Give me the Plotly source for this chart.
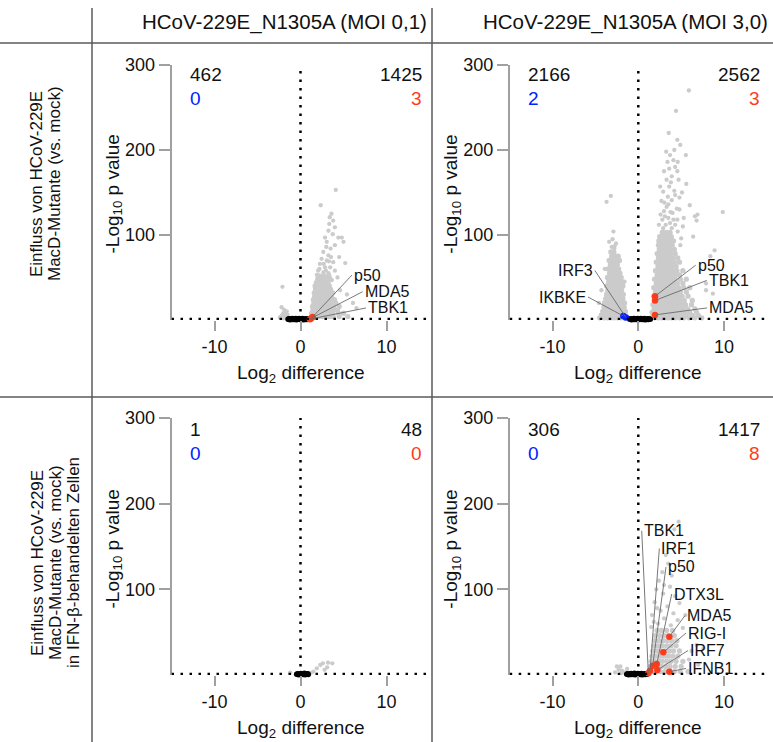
import plotly.graph_objects as go

W, H = 773, 742
FONT = "Liberation Sans, Arial, Helvetica, sans-serif"

# ---------------- data ----------------
col_titles = ["HCoV-229E_N1305A (MOI 0,1)", "HCoV-229E_N1305A (MOI 3,0)"]
row_titles_top = ["Einfluss von HCoV-229E", "MacD-Mutante (vs. mock)"]
row_titles_bottom = ["Einfluss von HCoV-229E", "MacD-Mutante (vs. mock)", "in IFN-β-behandelten Zellen"]
x_tick_vals = [-10, 0, 10]
x_tick_text = ["-10", "0", "10"]
y_tick_vals = [100, 200, 300]
y_tick_text = ["100", "200", "300"]
fc_threshold = 0
p_threshold = 1.3

down_total = [462, 2166, 1, 306]
down_hits = [0, 2, 0, 0]
up_total = [1425, 2562, 48, 1417]
up_hits = [3, 3, 0, 8]

# gray proteins, read per panel: scattered ones and dense rows (y, [x...])
p1_gray_sparse = [(4.1, 153), (2.35, 135), (3.6, 125), (3.4, 121), (3.8, 117), (3.35, 113), (4.0, 109),
                  (3.25, 105), (3.75, 101), (2.85, 97), (4.4, 97), (4.8, 97), (5.0, 92), (3.05, 92),
                  (4.0, 88), (3.5, 84), (2.65, 80), (3.25, 76), (4.5, 74), (2.45, 72), (3.05, 70),
                  (3.8, 68), (5.2, 67), (2.25, 66), (2.85, 62), (3.45, 62), (2.05, 58), (4.0, 58),
                  (2.65, 56), (3.25, 55), (1.9, 53), (2.45, 51), (3.05, 49), (3.65, 47), (4.3, 50),
                  (2.7, 66), (3.3, 69), (2.95, 58), (3.55, 74), (2.2, 60), (3.0, 86),
                  (6.1, 20), (6.5, 14), (5.4, 30), (4.6, 35),
                  (-2.1, 39), (-2.2, 15), (-1.9, 12), (-1.6, 10), (-2.0, 8), (-1.5, 6), (-2.2, 5),
                  (-1.8, 4), (-1.4, 3), (-2.4, 3), (-1.7, 7), (-2.0, 2)]
p1_gray_rows = [(52, [2.2, 2.75, 3.3]),
                (48, [2.0, 2.5, 2.95, 3.45]),
                (44, [1.85, 2.3, 2.75, 3.2]),
                (40, [1.7, 2.1, 2.5, 2.9, 3.35]),
                (36, [1.75, 2.15, 2.6, 3.05, 3.5]),
                (32, [1.6, 2.0, 2.45, 2.85, 3.25, 3.75]),
                (28, [1.65, 2.05, 2.4, 2.8, 3.2, 3.6]),
                (24, [1.5, 1.9, 2.3, 2.7, 3.1, 3.5, 3.95]),
                (20, [1.55, 1.95, 2.35, 2.75, 3.15, 3.55, 4.1]),
                (16, [1.4, 1.8, 2.2, 2.6, 3.0, 3.4, 3.85, 4.5]),
                (12, [1.45, 1.85, 2.25, 2.65, 3.05, 3.45, 3.9, 4.3]),
                (8, [1.3, 1.7, 2.1, 2.5, 2.9, 3.3, 3.75, 4.4, 5.0]),
                (4, [1.35, 1.75, 2.15, 2.55, 2.95, 3.35, 3.8, 4.5, 5.5])]

p2_gray_sparse = [(5.9, 270), (4.4, 246), (3.55, 220), (4.55, 212), (3.25, 198), (3.7, 194), (5.55, 194),
                  (4.1, 188), (3.4, 186), (4.3, 180), (4.55, 175), (3.9, 169), (4.7, 165), (2.55, 157),
                  (3.6, 157), (2.9, 151), (4.3, 147), (4.8, 144), (3.9, 141), (3.3, 133), (4.5, 131),
                  (6.0, 135), (4.0, 126), (9.85, 127), (6.6, 122), (6.8, 117), (4.55, 118), (3.7, 114),
                  (2.7, 140), (3.1, 122), (5.2, 110), (6.4, 98), (8.9, 82), (8.4, 75), (7.9, 43),
                  (8.7, 31), (7.9, 35), (5.6, 160), (4.2, 200), (3.0, 175), (6.9, 124),
                  (3.0, 128), (3.5, 136), (4.2, 152), (3.8, 162), (4.6, 186), (3.6, 178), (4.9, 206),
                  (3.3, 165), (2.8, 118), (4.8, 130), (5.1, 150), (3.45, 145), (4.1, 118), (2.6, 124),
                  (5.3, 120), (3.9, 108), (2.4, 112), (4.6, 104), (5.0, 96), (4.9, 88),
                  (3.2, 112), (3.5, 120), (2.9, 108), (4.3, 112), (3.75, 127), (3.05, 138),
                  (-3.7, 139), (-3.2, 146), (-2.9, 104), (-3.4, 92), (-2.75, 87), (-3.9, 60),
                  (-4.3, 35), (-4.6, 20), (-1.6, 45), (-3.0, 95), (-2.6, 90), (-3.1, 86), (-2.8, 84)]
p2_gray_rows = [(103, [2.8, 3.25, 3.7]),
                (98, [2.5, 2.95, 3.4, 3.85]),
                (93, [2.4, 2.8, 3.2, 3.6, 4.1]),
                (88, [2.35, 2.7, 3.1, 3.5, 3.95]),
                (83, [2.45, 2.85, 3.3, 3.75, 4.2]),
                (78, [2.2, 2.6, 3.0, 3.4, 3.8, 4.3]),
                (73, [2.35, 2.75, 3.15, 3.6, 4.05, 4.6]),
                (68, [2.1, 2.5, 2.9, 3.3, 3.7, 4.2, 4.8]),
                (63, [2.3, 2.7, 3.1, 3.5, 3.9, 4.4]),
                (58, [2.0, 2.4, 2.8, 3.2, 3.6, 4.0, 4.5, 5.2]),
                (53, [2.2, 2.6, 3.0, 3.4, 3.8, 4.25, 4.8]),
                (48, [1.9, 2.3, 2.7, 3.1, 3.5, 3.9, 4.3, 4.9, 5.6]),
                (43, [2.1, 2.5, 2.9, 3.3, 3.7, 4.1, 4.55, 5.2]),
                (38, [1.8, 2.2, 2.6, 3.0, 3.4, 3.8, 4.2, 4.7, 5.3, 6.0]),
                (33, [2.0, 2.4, 2.8, 3.2, 3.6, 4.0, 4.45, 4.9, 5.6]),
                (28, [1.8, 2.2, 2.6, 3.0, 3.4, 3.8, 4.2, 4.6, 5.1, 5.8]),
                (23, [1.95, 2.35, 2.75, 3.15, 3.55, 3.95, 4.35, 4.8, 5.35, 6.3]),
                (18, [1.7, 2.1, 2.5, 2.9, 3.3, 3.7, 4.1, 4.5, 5.0, 5.5, 6.2]),
                (13, [1.85, 2.25, 2.65, 3.05, 3.45, 3.85, 4.25, 4.7, 5.2, 5.75, 6.6]),
                (9, [1.6, 2.0, 2.4, 2.8, 3.2, 3.6, 4.0, 4.4, 4.9, 5.4, 6.0, 6.8]),
                (5.5, [1.75, 2.15, 2.55, 2.95, 3.35, 3.75, 4.15, 4.6, 5.1, 5.6, 6.3, 7.0]),
                (2.5, [1.5, 1.9, 2.3, 2.7, 3.1, 3.5, 3.9, 4.3, 4.8, 5.3, 5.9, 6.6, 7.4]),
                (80, [-3.2, -2.85]),
                (75, [-3.1, -2.7, -2.35]),
                (70, [-3.4, -3.0, -2.6, -2.2]),
                (65, [-3.25, -2.85, -2.45]),
                (60, [-3.5, -3.1, -2.7, -2.3]),
                (55, [-3.35, -2.95, -2.55, -2.15]),
                (50, [-3.6, -3.2, -2.8, -2.4, -2.0]),
                (45, [-3.45, -3.05, -2.65, -2.25, -1.9]),
                (40, [-3.7, -3.3, -2.9, -2.5, -2.1, -1.8]),
                (35, [-3.55, -3.15, -2.75, -2.35, -1.95]),
                (30, [-3.7, -3.3, -2.9, -2.5, -2.1, -1.75]),
                (25, [-3.8, -3.4, -3.0, -2.6, -2.2, -1.8]),
                (20, [-3.95, -3.55, -3.15, -2.75, -2.35, -1.95, -1.6]),
                (15, [-4.0, -3.6, -3.2, -2.8, -2.4, -2.0, -1.65]),
                (10, [-4.15, -3.75, -3.35, -2.95, -2.55, -2.15, -1.8, -1.5]),
                (6, [-4.3, -3.9, -3.5, -3.1, -2.7, -2.3, -1.9, -1.55]),
                (2.5, [-4.5, -4.0, -3.6, -3.2, -2.8, -2.4, -2.0, -1.6, -1.3])]

p3_gray_sparse = [(2.3, 11.7), (2.6, 13.6), (3.2, 14.4), (3.7, 13.6), (3.1, 9), (1.9, 7.8),
                  (-1.2, 2.7), (1.5, 4), (2.8, 6), (1.2, 2.5)]
p3_gray_rows = []

p4_gray_sparse = [(4.7, 179), (4.2, 170), (3.5, 130), (3.9, 116), (3.7, 103), (4.3, 92), (2.9, 95),
                  (4.8, 84), (3.4, 80), (5.5, 70), (2.6, 75), (4.1, 72), (3.0, 66), (4.6, 64),
                  (2.3, 60), (3.8, 58), (5.2, 55), (6.8, 35), (7.6, 31), (6.2, 28), (5.9, 18), (7.0, 12),
                  (1.6, 70), (1.9, 85), (2.1, 100), (1.5, 56), (2.4, 110), (2.8, 120), (3.2, 140),
                  (3.0, 105), (2.2, 78), (1.8, 62),
                  (-2.5, 10), (-2.1, 10), (-2.3, 6), (-1.9, 5), (-1.6, 3), (-2.7, 3), (-1.3, 7),
                  (-1.0, 2), (-2.0, 2)]
p4_gray_rows = [(52, [2.2, 2.7, 3.3, 4.0]),
                (46, [2.0, 2.5, 3.0, 3.5, 4.2]),
                (40, [1.9, 2.4, 2.9, 3.4, 3.9, 4.5]),
                (34, [1.8, 2.3, 2.8, 3.3, 3.8, 4.4]),
                (28, [1.7, 2.2, 2.6, 3.1, 3.6, 4.1, 4.8]),
                (22, [1.6, 2.0, 2.5, 3.0, 3.5, 4.0, 4.6]),
                (16, [1.5, 1.9, 2.4, 2.8, 3.3, 3.8, 4.4, 5.2]),
                (10, [1.4, 1.8, 2.3, 2.7, 3.2, 3.7, 4.3, 5.0]),
                (4, [1.2, 1.6, 2.1, 2.6, 3.1, 3.6, 4.2, 4.9, 5.8])]

# non-significant proteins near the origin (black)
p1_black = [(-1.45, 0.8), (-1.35, 1.6), (-1.25, 0.4), (-1.15, 1.2), (-1.05, 0.6), (-0.95, 1.8),
            (-0.85, 0.5), (-0.75, 1.3), (-0.65, 0.7), (-0.55, 1.9), (-0.45, 0.4), (-0.35, 1.2),
            (-0.25, 0.8), (-0.15, 1.7), (-0.05, 0.5), (0.05, 1.4), (0.15, 0.6), (0.25, 1.8),
            (0.35, 0.4), (0.45, 1.1), (0.55, 0.7), (0.65, 1.6), (0.75, 0.5), (0.85, 1.3),
            (0.95, 0.8), (1.05, 1.5)]
p2_black = [(-1.0, 0.8), (-0.9, 1.6), (-0.8, 0.4), (-0.7, 1.2), (-0.6, 0.6), (-0.5, 1.8), (-0.4, 0.5),
            (-0.3, 1.3), (-0.2, 0.7), (-0.1, 1.9), (0.0, 0.4), (0.1, 1.2), (0.2, 0.8), (0.3, 1.7),
            (0.4, 0.5), (0.5, 1.4), (0.6, 0.6), (0.7, 1.8), (0.8, 0.4), (0.9, 1.1), (1.0, 0.7),
            (1.1, 1.6), (1.2, 0.5), (1.3, 1.3), (1.4, 0.8)]
p3_black = [(-0.45, 0.8), (-0.35, 1.6), (-0.25, 0.4), (-0.15, 1.2), (-0.05, 0.6), (0.05, 1.8),
            (0.15, 0.5), (0.25, 1.3), (0.35, 0.7), (0.45, 1.9), (0.55, 0.4), (0.65, 1.2),
            (0.75, 0.8), (0.85, 1.5), (0.9, 0.6)]
p4_black = [(-1.35, 0.8), (-1.25, 1.6), (-1.15, 0.4), (-1.05, 1.2), (-0.95, 0.6), (-0.85, 1.8),
            (-0.75, 0.5), (-0.65, 1.3), (-0.55, 0.7), (-0.45, 1.9), (-0.35, 0.4), (-0.25, 1.2),
            (-0.15, 0.8), (-0.05, 1.7), (0.05, 0.5), (0.15, 1.4), (0.25, 0.6), (0.35, 1.8),
            (0.45, 0.4), (0.55, 1.1), (0.65, 0.7), (0.75, 1.6), (0.85, 0.5), (0.95, 1.3), (1.0, 0.8)]

# highlighted proteins (name, log2 difference, -log10 p)
p1_up = [("p50", 1.4, 3.5), ("MDA5", 1.25, 2.0), ("TBK1", 1.1, 1.0)]
p1_down = []
p2_up = [("p50", 1.95, 28), ("TBK1", 1.95, 23), ("MDA5", 1.95, 6)]
p2_down = [("IRF3", -1.45, 3.0), ("IKBKE", -1.75, 4.7)]
p3_up = []
p3_down = []
p4_up = [("TBK1", 1.17, 2.0), ("IRF1", 1.37, 5.0), ("p50", 1.68, 10.9), ("DTX3L", 2.15, 12.8),
         ("MDA5", 3.62, 44.7), ("RIG-I", 2.92, 26.5), ("IRF7", 2.22, 5.8), ("IFNB1", 3.62, 3.9)]
p4_down = []

# ---------------- styling / layout ----------------
GRAY = "#cbcbcb"
RED = "#ff3b1a"
BLUE = "#0022ff"
AXC = "#a0a0a0"
FRAME = "#5a5a5a"

# label offsets in pixels (tail relative to the point), per panel
label_offsets = {
    0: {"p50": (39.5, -42, "left"), "MDA5": (51.4, -26.6, "left"), "TBK1": (56, -11.2, "left")},
    1: {"p50": (40.7, -31, "left"), "TBK1": (51.7, -20, "left"), "MDA5": (52, -7, "left"),
        "IRF3": (-31, -47, "right"), "IKBKE": (-35.3, -19, "right")},
    2: {},
    3: {"TBK1": (-6.6, -142.5, "left"), "IRF1": (9.3, -122.2, "left"), "p50": (13.3, -98.7, "left"),
        "DTX3L": (15, -70, "left"), "MDA5": (15.7, -21.2, "left"), "RIG-I": (22.7, -19.3, "left"),
        "IRF7": (30.7, -19.5, "left"), "IFNB1": (16.7, -3.2, "left")},
}

panels = [
    dict(gray_sparse=p1_gray_sparse, gray_rows=p1_gray_rows, black=p1_black, up=p1_up, down=p1_down,
         xd=(171.5, 429.5), yd=(320, 65)),
    dict(gray_sparse=p2_gray_sparse, gray_rows=p2_gray_rows, black=p2_black, up=p2_up, down=p2_down,
         xd=(509.7, 766.9), yd=(320, 65)),
    dict(gray_sparse=p3_gray_sparse, gray_rows=p3_gray_rows, black=p3_black, up=p3_up, down=p3_down,
         xd=(171.5, 429.5), yd=(675, 418)),
    dict(gray_sparse=p4_gray_sparse, gray_rows=p4_gray_rows, black=p4_black, up=p4_up, down=p4_down,
         xd=(509.7, 766.9), yd=(675, 418)),
]

fig = go.Figure()
annotations = []
shapes = []
layout_axes = {}

for i, p in enumerate(panels):
    sfx = "" if i == 0 else str(i + 1)
    xa, ya = "x" + sfx, "y" + sfx

    fig.add_trace(go.Scatter(x=[pt[0] for pt in p["gray_sparse"]], y=[pt[1] for pt in p["gray_sparse"]],
                             mode="markers", xaxis=xa, yaxis=ya, cliponaxis=False,
                             marker=dict(size=4.3, color=GRAY, line=dict(width=0)), showlegend=False,
                             hoverinfo="skip"))
    rx, ry = [], []
    for yv, xs in p["gray_rows"]:
        rx += xs
        ry += [yv] * len(xs)
    fig.add_trace(go.Scatter(x=rx, y=ry, mode="markers", xaxis=xa, yaxis=ya, cliponaxis=False,
                             marker=dict(size=5.3, color=GRAY, line=dict(width=0)), showlegend=False,
                             hoverinfo="skip"))
    fig.add_trace(go.Scatter(x=[pt[0] for pt in p["black"]], y=[pt[1] for pt in p["black"]],
                             mode="markers", xaxis=xa, yaxis=ya, cliponaxis=False,
                             marker=dict(size=5.5, color="black", line=dict(width=0)),
                             showlegend=False, hoverinfo="skip"))
    for group, col in ((p["up"], RED), (p["down"], BLUE)):
        if group:
            fig.add_trace(go.Scatter(x=[g[1] for g in group], y=[g[2] for g in group], mode="markers",
                                     xaxis=xa, yaxis=ya, cliponaxis=False,
                                     marker=dict(size=6.5, color=col, line=dict(width=0)),
                                     showlegend=False, hoverinfo="skip"))
            for name, gxv, gyv in group:
                dx, dy, anc = label_offsets[i][name]
                annotations.append(dict(x=gxv, y=gyv, xref=xa, yref=ya, text=name, showarrow=True,
                                        ax=dx, ay=dy, xanchor=anc, yanchor="middle", arrowhead=0,
                                        arrowwidth=0.9, arrowcolor="#6a6a6a", standoff=0, startstandoff=0,
                                        font=dict(family=FONT, size=16, color="#111")))

    x0, x1 = p["xd"]
    yb, yt = p["yd"]
    layout_axes["xaxis" + sfx] = dict(domain=[x0 / W, x1 / W], range=[-15, 15], anchor=ya,
                                      tickvals=x_tick_vals, ticktext=x_tick_text, ticks="outside",
                                      ticklen=10, tickwidth=1.5, tickcolor=AXC, showline=False,
                                      showgrid=False, zeroline=False, automargin=False,
                                      tickfont=dict(family=FONT, size=18, color="#111"))
    layout_axes["yaxis" + sfx] = dict(domain=[1 - yb / H, 1 - yt / H], range=[0, 300], anchor=xa,
                                      tickvals=y_tick_vals, ticktext=y_tick_text, ticks="outside",
                                      ticklen=11, tickwidth=1.5, tickcolor=AXC, showline=True,
                                      linecolor=AXC, linewidth=1.5, showgrid=False, zeroline=False,
                                      automargin=False,
                                      tickfont=dict(family=FONT, size=18, color="#111"))

    # threshold dotted lines
    shapes.append(dict(type="line", xref=xa, yref=ya, x0=fc_threshold, x1=fc_threshold, y0=0, y1=300,
                       line=dict(color="black", width=2.5, dash="2.5px,6px"), layer="above"))
    shapes.append(dict(type="line", xref=xa, yref=ya, x0=-15, x1=15, y0=p_threshold, y1=p_threshold,
                       line=dict(color="black", width=2.5, dash="2.5px,6.5px"), layer="above"))

    # counts
    top_y = 289 if i < 2 else 287
    annotations += [
        dict(x=-13.1, y=top_y, xref=xa, yref=ya, text=str(down_total[i]), showarrow=False, xanchor="left",
             yanchor="middle", font=dict(family=FONT, size=19, color="#111")),
        dict(x=-13.1, y=top_y - 28, xref=xa, yref=ya, text=str(down_hits[i]), showarrow=False,
             xanchor="left", yanchor="middle", font=dict(family=FONT, size=19, color=BLUE)),
        dict(x=14.4, y=top_y, xref=xa, yref=ya, text=str(up_total[i]), showarrow=False, xanchor="right",
             yanchor="middle", font=dict(family=FONT, size=19, color="#111")),
        dict(x=14.4, y=top_y - 28, xref=xa, yref=ya, text=str(up_hits[i]), showarrow=False,
             xanchor="right", yanchor="middle", font=dict(family=FONT, size=19, color=RED)),
    ]

    # axis titles
    xc = (x0 + x1) / 2
    annotations.append(dict(x=xc / W, y=1 - (yb + 54) / H, xref="paper", yref="paper",
                            text="Log<sub>2</sub> difference", showarrow=False, xanchor="center",
                            yanchor="middle", font=dict(family=FONT, size=19, color="#111")))
    annotations.append(dict(x=(x0 - 58) / W, y=1 - (yb - 126) / H, xref="paper", yref="paper",
                            text="-Log<sub>10</sub> p value", showarrow=False, textangle=-90,
                            xanchor="center", yanchor="middle",
                            font=dict(family=FONT, size=19, color="#111")))

# column titles
for cx, t in zip([284.5, 625], col_titles):
    annotations.append(dict(x=cx / W, y=1 - 22 / H, xref="paper", yref="paper", text=t, showarrow=False,
                            xanchor="center", yanchor="middle", font=dict(family=FONT, size=20.5, color="#111")))
# row titles (one annotation per line)
for lx, t in zip([36, 54], row_titles_top):
    annotations.append(dict(x=lx / W, y=1 - 184 / H, xref="paper", yref="paper", text=t, showarrow=False,
                            textangle=-90, xanchor="center", yanchor="middle",
                            font=dict(family=FONT, size=17, color="#111")))
for lx, t in zip([37, 55, 73], row_titles_bottom):
    annotations.append(dict(x=lx / W, y=1 - 563 / H, xref="paper", yref="paper", text=t, showarrow=False,
                            textangle=-90, xanchor="center", yanchor="middle",
                            font=dict(family=FONT, size=17, color="#111")))

# frame lines
for xx in (92, 432):
    shapes.append(dict(type="line", xref="paper", yref="paper", x0=xx / W, x1=xx / W, y0=0, y1=1 - 8 / H,
                       line=dict(color=FRAME, width=1.5)))
for yy in (43, 397):
    shapes.append(dict(type="line", xref="paper", yref="paper", x0=0, x1=1, y0=1 - yy / H, y1=1 - yy / H,
                       line=dict(color=FRAME, width=1.5)))

fig.update_layout(template="none", width=W, height=H, autosize=False,
                  margin=dict(l=0, r=0, t=0, b=0, pad=0, autoexpand=False), plot_bgcolor="white",
                  paper_bgcolor="white", showlegend=False, annotations=annotations, shapes=shapes,
                  font=dict(family=FONT), **layout_axes)

post = (
    "document.documentElement.style.margin='0';document.documentElement.style.padding='0';"
    "document.documentElement.style.overflow='hidden';"
    "document.body.style.margin='0';document.body.style.padding='0';document.body.style.overflow='hidden';"
    "var gd=document.getElementById('{plot_id}');"
    "gd.style.position='absolute';gd.style.top='0px';gd.style.left='0px';"
)
fig.write_html("out.html", config={"displayModeBar": False, "responsive": False}, post_script=post)
